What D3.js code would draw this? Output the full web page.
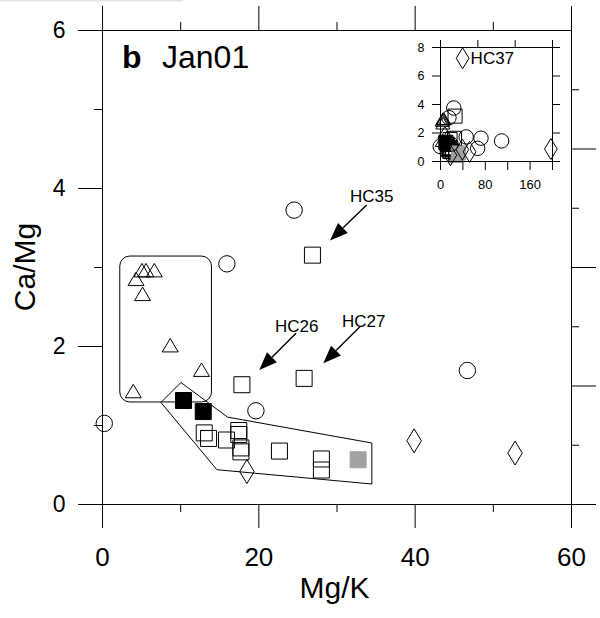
<!DOCTYPE html>
<html><head><meta charset="utf-8">
<script src="https://cdn.jsdelivr.net/npm/d3@7"></script>
<style>
body{margin:0;background:#fff;}
svg{display:block;}
text{font-family:"Liberation Sans", Arial, Helvetica, sans-serif;fill:#000;}
</style>
</head><body>
<svg id="c" width="600" height="618"></svg>
<script>
// ---- data: [Mg/K, Ca/Mg] ----
const circles      = [[0.29,1.02],[15.98,3.04],[24.58,3.72],[19.69,1.18],[46.74,1.69],[67.3,0.89],[73.2,1.60],[110.0,1.41]];
const triangles    = [[5.11,2.96],[5.63,2.96],[6.69,2.96],[4.35,2.85],[5.19,2.66],[8.73,2.01],[12.73,1.70],[4.00,1.43]];
const openSquares  = [[17.90,1.51],[25.86,1.59],[26.92,3.15],[13.08,0.90],[13.63,0.83],[15.93,0.81],[17.50,0.93],[17.50,0.88],[17.77,0.71],[17.77,0.66],[22.70,0.67],[28.07,0.57],[28.07,0.43]];
const blackSquares = [[10.43,1.31],[12.95,1.17]];
const graySquares  = [[32.77,0.56]];
const diamonds     = [[18.54,0.41],[39.93,0.80],[52.84,0.645],[40.4,7.21],[198,0.84]];

// annotations (data coordinates)
const arrowLabels  = ["HC35","HC26","HC27"];
const arrowLabelAt = [[34.5,3.827],[24.9,2.181],[33.49,2.244]];
const arrowTail    = [[33.86,3.785],[24.82,2.161],[33.0,2.244]];
const arrowTip     = [[29.17,3.335],[20.12,1.696],[28.31,1.781]];
const insetLabel   = "HC37";
const insetLabelAt = [40.4,7.21];

// group outlines
const triangleBox = [[2.21,1.298],[13.94,3.145]];
const squareHull  = [[7.54,1.285],[10.10,1.538],[16.06,1.10],[34.52,0.772],[34.52,0.253],[14.70,0.434]];

// ticks
const xMajor=[0,20,40,60], xMinor=[10,30,50];
const yMajor=[0,2,4,6], yMinor=[1,3,5];
const rMajor=[0,2,4,6], rMinor=[1,3,5,7];
const insetXTicks=[0,40,80,120,160,200], insetXLabels=[0,80,160];
const insetTopTicks=[0,66.7,133.3,200], insetYTicks=[0,2,4,6,8];
const panelTag="b", panelTitle="Jan01", xTitle="Mg/K", yTitle="Ca/Mg";

const svg=d3.select("#c");
svg.append("rect").attr("x",0).attr("y",0).attr("width",183).attr("height",1.5).attr("fill","#e4e4e4");

const x=d3.scaleLinear().domain([0,60]).range([102,571]);
const y=d3.scaleLinear().domain([0,6]).range([504,30]);
const yR=d3.scaleLinear().domain([0,8]).range([504,30]);

function styleAxis(g,fs){
  g.select(".domain").remove();
  g.selectAll("line").attr("stroke","#000").attr("stroke-width",1);
  g.attr("font-family",null).attr("font-size",fs);
  g.selectAll("text").attr("fill","#000");
}
// main axes
svg.append("g").attr("transform","translate(0,504)")
  .call(d3.axisBottom(x).tickValues(xMajor).tickSize(24).tickPadding(19.5).tickFormat(d3.format("d")))
  .call(g=>styleAxis(g,26));
svg.append("g").attr("transform","translate(0,504)")
  .call(d3.axisBottom(x).tickValues(xMinor).tickSize(8).tickFormat(""))
  .call(g=>styleAxis(g,10));
svg.append("g").attr("transform","translate(0,30)")
  .call(d3.axisTop(x).tickValues(xMajor).tickSize(24).tickFormat(""))
  .call(g=>styleAxis(g,10));
svg.append("g").attr("transform","translate(0,30)")
  .call(d3.axisTop(x).tickValues(xMinor).tickSize(8).tickFormat(""))
  .call(g=>styleAxis(g,10));
svg.append("g").attr("transform","translate(102,0)")
  .call(d3.axisLeft(y).tickValues(yMajor).tickSize(24).tickPadding(12.5).tickFormat(d3.format("d")))
  .call(g=>styleAxis(g,23));
svg.append("g").attr("transform","translate(102,0)")
  .call(d3.axisLeft(y).tickValues(yMinor).tickSize(8).tickFormat(""))
  .call(g=>styleAxis(g,10));
svg.append("g").attr("transform","translate(571,0)")
  .call(d3.axisRight(yR).tickValues(rMajor).tickSize(25).tickFormat(""))
  .call(g=>styleAxis(g,10));
svg.append("g").attr("transform","translate(571,0)")
  .call(d3.axisRight(yR).tickValues(rMinor).tickSize(8).tickFormat(""))
  .call(g=>styleAxis(g,10));
svg.append("rect").attr("x",x(0)+0.5).attr("y",y(6)+0.5)
  .attr("width",x(60)-x(0)).attr("height",y(0)-y(6))
  .attr("fill","none").attr("stroke","#000");

// titles
svg.append("text").attr("x",x(30)-2).attr("y",598).attr("text-anchor","middle").attr("font-size",30).text(xTitle);
svg.append("text").attr("transform","translate(35,"+y(3)+") rotate(-90)").attr("text-anchor","middle").attr("font-size",30).text(yTitle);
svg.append("text").attr("x",122).attr("y",68).attr("font-size",32).attr("font-weight","bold").text(panelTag);
svg.append("text").attr("x",162).attr("y",68).attr("font-size",32).text(panelTitle);

// symbol types (centered on bbox)
const symTri={draw(c,s){const w=Math.sqrt(s),h=w*0.84;c.moveTo(0,-h/2);c.lineTo(w/2,h/2);c.lineTo(-w/2,h/2);c.closePath();}};
const symDia={draw(c,s){const w=Math.sqrt(s),h=w*1.65;c.moveTo(0,-h/2);c.lineTo(w/2,0);c.lineTo(0,h/2);c.lineTo(-w/2,0);c.closePath();}};
const symSq={draw(c,s){const w=Math.sqrt(s);c.rect(-w/2,-w/2,w,w);}};
const symCir={draw(c,s){const r=Math.sqrt(s)/2;c.moveTo(r,0);c.arc(0,0,r,0,2*Math.PI);}};
const series=[
  {pts:openSquares,type:symSq,w:16,fill:"none",stroke:"#000"},
  {pts:blackSquares,type:symSq,w:16,fill:"#000",stroke:"#000"},
  {pts:graySquares,type:symSq,w:16,fill:"#a2a2a2",stroke:"#a2a2a2"},
  {pts:circles,type:symCir,w:16.4,fill:"none",stroke:"#000"},
  {pts:triangles,type:symTri,w:16,fill:"none",stroke:"#000"},
  {pts:diamonds,type:symDia,w:14.5,fill:"none",stroke:"#000"}
];

// group outlines
svg.append("rect")
  .attr("x",x(triangleBox[0][0])+0.5).attr("y",y(triangleBox[1][1])+0.5)
  .attr("width",x(triangleBox[1][0])-x(triangleBox[0][0]))
  .attr("height",y(triangleBox[0][1])-y(triangleBox[1][1]))
  .attr("rx",10).attr("ry",10).attr("fill","none").attr("stroke","#000").attr("stroke-width",1);
svg.append("path").datum(squareHull)
  .attr("d",d3.line().x(d=>x(d[0])).y(d=>y(d[1])).curve(d3.curveLinearClosed))
  .attr("fill","none").attr("stroke","#000").attr("stroke-width",1);

// main points
const gMain=svg.append("g");
series.forEach(s=>{
  gMain.selectAll(null).data(s.pts.filter(d=>d[0]>=0&&d[0]<=60&&d[1]>=0&&d[1]<=6)).join("path")
    .attr("transform",d=>`translate(${x(d[0])},${y(d[1])})`)
    .attr("d",d3.symbol().type(s.type).size(s.w*s.w))
    .attr("fill",s.fill).attr("stroke",s.stroke).attr("stroke-width",1);
});

// arrows
arrowLabels.forEach((lab,i)=>{
  svg.append("text").attr("x",x(arrowLabelAt[i][0])).attr("y",y(arrowLabelAt[i][1]))
    .attr("text-anchor","middle").attr("font-size",17).text(lab);
  const x0=x(arrowTail[i][0]),y0=y(arrowTail[i][1]),x1=x(arrowTip[i][0]),y1=y(arrowTip[i][1]);
  const a=Math.atan2(y1-y0,x1-x0),L=18,W=7;
  const bx=x1-L*Math.cos(a),by=y1-L*Math.sin(a);
  svg.append("line").attr("x1",x0).attr("y1",y0).attr("x2",bx).attr("y2",by)
    .attr("stroke","#000").attr("stroke-width",1.4);
  svg.append("path").attr("d",d3.line()([[x1,y1],[bx+W*Math.sin(a),by-W*Math.cos(a)],[bx-W*Math.sin(a),by+W*Math.cos(a)]])+"Z")
    .attr("fill","#000");
});

// inset
const xi=d3.scaleLinear().domain([0,200]).range([440,552]);
const yi=d3.scaleLinear().domain([0,8]).range([161,47]);
svg.append("rect").attr("x",xi(0)+0.5).attr("y",yi(8)+0.5).attr("width",xi(200)-xi(0)).attr("height",yi(0)-yi(8))
  .attr("fill","#fff").attr("stroke","#000");
svg.append("g").attr("transform","translate(0,161)")
  .call(d3.axisBottom(xi).tickValues(insetXTicks).tickSize(9).tickPadding(10).tickFormat(d=>insetXLabels.includes(d)?d:""))
  .call(g=>styleAxis(g,13));
svg.append("g").attr("transform","translate(0,47)")
  .call(d3.axisTop(xi).tickValues(insetTopTicks).tickSize(7).tickFormat(""))
  .call(g=>styleAxis(g,10));
svg.append("g").attr("transform","translate(440,0)")
  .call(d3.axisLeft(yi).tickValues(insetYTicks).tickSize(8).tickPadding(7.5).tickFormat(d3.format("d")))
  .call(g=>styleAxis(g,12.5));
svg.append("g").attr("transform","translate(552,0)")
  .call(d3.axisRight(yi).tickValues(insetYTicks).tickSize(8).tickFormat(""))
  .call(g=>styleAxis(g,10));
const gIn=svg.append("g");
series.forEach(s=>{
  const w=s.w*0.88;
  gIn.selectAll(null).data(s.pts).join("path")
    .attr("transform",d=>`translate(${xi(d[0])},${yi(d[1])})`)
    .attr("d",d3.symbol().type(s.type).size(w*w))
    .attr("fill",s.fill).attr("stroke",s.stroke).attr("stroke-width",1);
});
svg.append("text").attr("x",xi(insetLabelAt[0])+8).attr("y",yi(insetLabelAt[1])+6)
  .attr("font-size",17).text(insetLabel);
</script>
</body></html>
